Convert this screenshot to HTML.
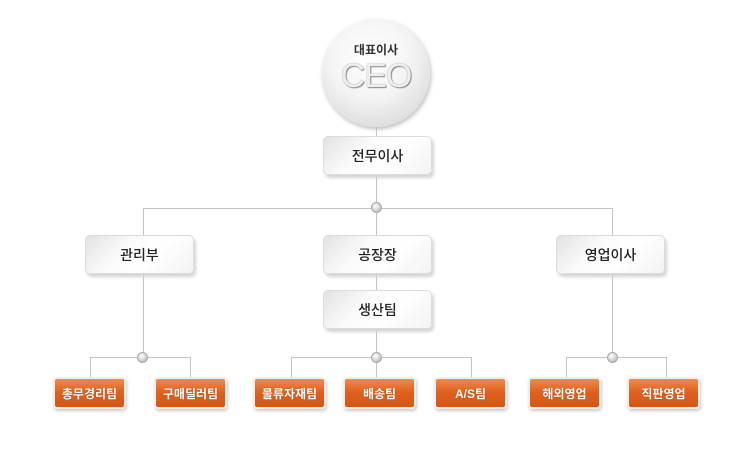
<!DOCTYPE html>
<html><head><meta charset="utf-8"><style>
body{margin:0;width:747px;height:450px;background:#fff;position:relative;overflow:hidden;font-family:"Liberation Sans","Noto Sans CJK KR",sans-serif}
.l{position:absolute;background:#c4c4c4}
.g{position:absolute;width:109px;height:39px;border:1px solid #dcdcdc;border-radius:5px;background:linear-gradient(135deg,#e2e2e2 0%,#fafafa 35%,#fff 60%,#f3f3f3 100%);box-shadow:2px 3px 3px #d4d4d4;font-size:14px;color:#222;display:flex;align-items:center;justify-content:center;box-sizing:border-box;font-weight:500}
.o{position:absolute;width:73px;height:32px;top:377px;border:2px solid #eee;border-radius:4px;box-sizing:border-box;background:linear-gradient(#f0894a,#de5f1e 50%,#d45815);box-shadow:1px 2px 3px #ccc;color:#fff;font-size:12px;display:flex;align-items:center;justify-content:center;font-weight:bold;text-shadow:0 0 1px #8a3a10}
.h{position:absolute;width:11px;height:11px;border-radius:50%;background:radial-gradient(circle at 40% 35%,#fff,#ccc 60%,#999);border:1px solid #aaa;box-sizing:border-box}
</style></head><body>
<div class="l" style="left:376px;top:120px;width:1px;height:258px"></div>
<div class="l" style="left:143px;top:208px;width:470px;height:1px"></div>
<div class="l" style="left:143px;top:208px;width:1px;height:150px"></div>
<div class="l" style="left:612px;top:208px;width:1px;height:150px"></div>
<div class="l" style="left:90px;top:357px;width:101px;height:1px"></div>
<div class="l" style="left:90px;top:357px;width:1px;height:21px"></div>
<div class="l" style="left:190px;top:357px;width:1px;height:21px"></div>
<div class="l" style="left:291px;top:357px;width:181px;height:1px"></div>
<div class="l" style="left:291px;top:357px;width:1px;height:21px"></div>
<div class="l" style="left:471px;top:357px;width:1px;height:21px"></div>
<div class="l" style="left:566px;top:357px;width:101px;height:1px"></div>
<div class="l" style="left:566px;top:357px;width:1px;height:21px"></div>
<div class="l" style="left:666px;top:357px;width:1px;height:21px"></div>
<div style="position:absolute;left:322px;top:19px;width:108px;height:108px;border-radius:50%;background:radial-gradient(circle at 45% 35%,#fff 0%,#f4f4f4 45%,#dcdcdc 80%,#c8c8c8 100%);box-shadow:1px 2px 4px #bbb;text-align:center">
<div style="margin-top:22px;font-size:12px;font-weight:bold;color:#333">대표이사</div>
<div style="font-size:34px;color:#eee;text-shadow:0 0 1px #777,1px 1px 1px #888;line-height:36px;letter-spacing:-1px">CEO</div></div>
<div class="g" style="left:323px;top:136px">전무이사</div>
<div class="g" style="left:85px;top:235px">관리부</div>
<div class="g" style="left:323px;top:235px">공장장</div>
<div class="g" style="left:556px;top:235px">영업이사</div>
<div class="g" style="left:323px;top:290px">생산팀</div>
<div class="h" style="left:371px;top:202px"></div>
<div class="h" style="left:137px;top:352px"></div>
<div class="h" style="left:371px;top:352px"></div>
<div class="h" style="left:607px;top:352px"></div>
<div class="o" style="left:53px">총무경리팀</div>
<div class="o" style="left:154px">구매딜러팀</div>
<div class="o" style="left:253px">물류자재팀</div>
<div class="o" style="left:343px">배송팀</div>
<div class="o" style="left:434px">A/S팀</div>
<div class="o" style="left:528px">해외영업</div>
<div class="o" style="left:627px">직판영업</div>
</body></html>
